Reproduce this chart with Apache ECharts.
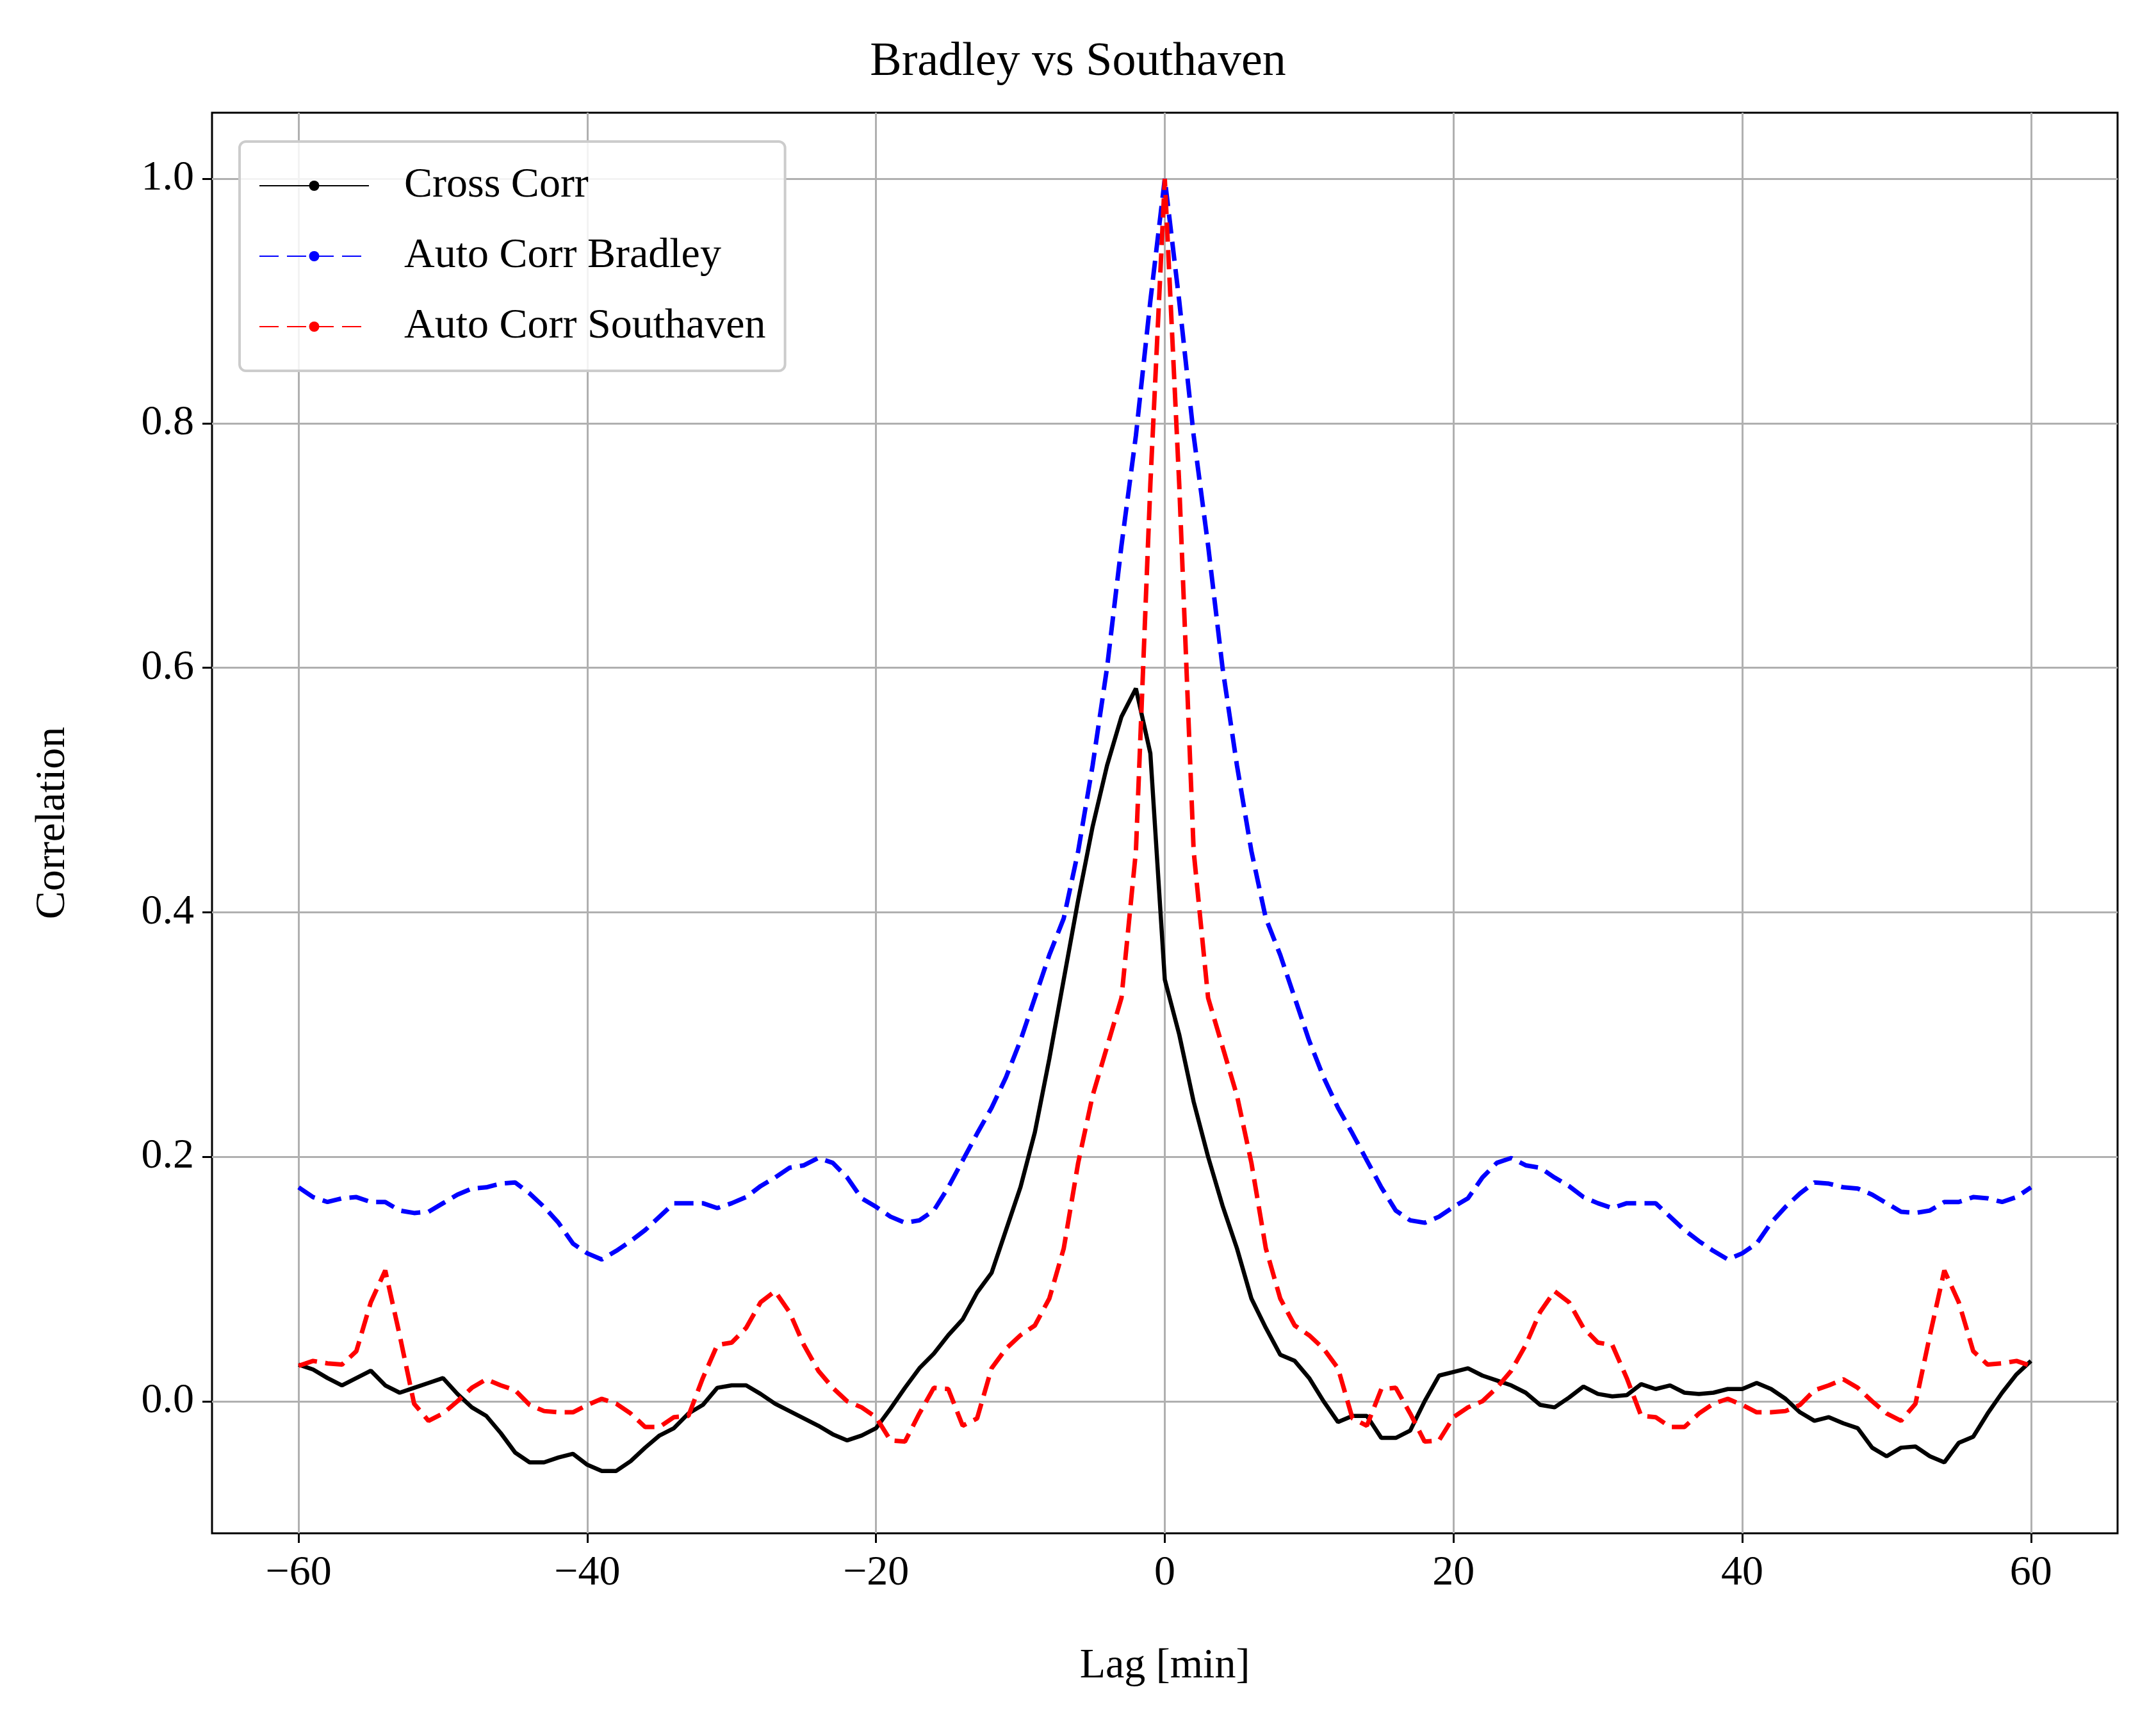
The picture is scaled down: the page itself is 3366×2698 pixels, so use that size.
<!DOCTYPE html>
<html>
<head>
<meta charset="utf-8">
<script src="https://cdn.jsdelivr.net/npm/echarts@6/dist/echarts.min.js"></script>
<style>
  html, body { margin: 0; padding: 0; background: #fff; }
  #chartDiv { width: 3366px; height: 2698px; }
</style>
</head>
<body>
<div id="chartDiv"></div>
<script>
// lags -60..60 (min)
var lags = [];
for (var i = -60; i <= 60; i++) lags.push(i);

// cross correlation, lag -60 .. 60
var crossCorr = [
  0.030, 0.026, 0.019, 0.013, 0.019, 0.025, 0.013, 0.007, 0.011, 0.015,
  0.019, 0.006, -0.005, -0.012, -0.026, -0.042, -0.050, -0.050, -0.046, -0.043,
  -0.052, -0.057, -0.057, -0.049, -0.038, -0.028, -0.022, -0.010, -0.003, 0.011,
  0.013, 0.013, 0.006, -0.002, -0.008, -0.014, -0.020, -0.027, -0.032, -0.028,
  -0.022, -0.006, 0.011, 0.027, 0.039, 0.054, 0.067, 0.089, 0.105, 0.140,
  0.175, 0.220, 0.280, 0.345, 0.410, 0.470, 0.520, 0.560, 0.583, 0.530,
  0.345,
  0.300, 0.245, 0.200, 0.160, 0.125, 0.084, 0.060, 0.038, 0.033, 0.019,
  0.000, -0.017, -0.012, -0.012, -0.030, -0.030, -0.024, 0.000, 0.021, 0.024,
  0.027, 0.021, 0.017, 0.013, 0.007, -0.003, -0.005, 0.003, 0.012, 0.006,
  0.004, 0.005, 0.014, 0.010, 0.013, 0.007, 0.006, 0.007, 0.010, 0.010,
  0.015, 0.010, 0.002, -0.009, -0.016, -0.013, -0.018, -0.022, -0.038, -0.045,
  -0.038, -0.037, -0.045, -0.050, -0.034, -0.029, -0.010, 0.007, 0.022, 0.033
];

// auto correlation Bradley, lag -60 .. -1 (symmetric, 0 = 1.0)
var autoBradleyHalf = [
  0.175, 0.167, 0.163, 0.166, 0.167, 0.163, 0.163, 0.156, 0.154, 0.155,
  0.162, 0.169, 0.174, 0.175, 0.178, 0.179, 0.170, 0.159, 0.146, 0.129,
  0.121, 0.116, 0.123, 0.131, 0.140, 0.151, 0.162, 0.162, 0.162, 0.158,
  0.162, 0.167, 0.176, 0.183, 0.191, 0.193, 0.199, 0.195, 0.183, 0.166,
  0.159, 0.151, 0.146, 0.148, 0.156, 0.175, 0.197, 0.219, 0.240, 0.265,
  0.295, 0.330, 0.365, 0.395, 0.450, 0.520, 0.600, 0.700, 0.790, 0.900
];

// auto correlation Southaven, lag -60 .. -1
var autoSouthHalf = [
  0.029, 0.033, 0.031, 0.030, 0.041, 0.081, 0.107, 0.054, -0.002, -0.016,
  -0.010, 0.000, 0.011, 0.018, 0.013, 0.009, -0.003, -0.008, -0.009, -0.009,
  -0.003, 0.002, -0.002, -0.010, -0.021, -0.021, -0.013, -0.012, 0.019, 0.046,
  0.048, 0.060, 0.081, 0.090, 0.073, 0.046, 0.025, 0.011, 0.000, -0.005,
  -0.013, -0.032, -0.033, -0.010, 0.011, 0.010, -0.020, -0.014, 0.027, 0.043,
  0.054, 0.062, 0.084, 0.125, 0.195, 0.250, 0.290, 0.330, 0.450, 0.750
];

var xTicks = [-60, -40, -20, 0, 20, 40, 60];
var yTicks = [0.0, 0.2, 0.4, 0.6, 0.8, 1.0];

function mirror(half) {
    return half.concat([1.0]).concat(half.slice().reverse());
}
function pairs(vals) {
    var out = [];
    for (var i = 0; i < lags.length; i++) out.push([lags[i], vals[i]]);
    return out;
}

var myChart = echarts.init(document.getElementById('chartDiv'));
var font = 'Liberation Serif';
var gridLine = { show: true, lineStyle: { color: '#b0b0b0', width: 3 } };

var option = {
    backgroundColor: '#fff',
    animation: false,
    textStyle: { fontFamily: font },
    title: {
        text: 'Bradley vs Southaven',
        left: 'center', top: 56,
        textStyle: { fontFamily: font, fontSize: 74, fontWeight: 'normal', color: '#000' }
    },
    grid: {
        left: 331, right: 60, top: 176, bottom: 304,
        show: true, borderColor: '#000', borderWidth: 3
    },
    legend: {
        orient: 'vertical', left: 374, top: 221,
        padding: [36, 30, 36, 30],
        itemWidth: 171, itemHeight: 20, itemGap: 44,
        backgroundColor: 'rgba(255,255,255,0.85)',
        borderColor: '#cccccc', borderWidth: 4, borderRadius: 10,
        textStyle: { fontFamily: font, fontSize: 66, color: '#000', padding: [0, 0, 0, 50] },
        data: ['Cross Corr', 'Auto Corr Bradley', 'Auto Corr Southaven']
    },
    xAxis: {
        type: 'value', min: -66, max: 66,
        name: 'Lag [min]', nameLocation: 'middle', nameGap: 175,
        nameTextStyle: { fontFamily: font, fontSize: 66, color: '#000' },
        axisLine: { show: false, onZero: false },
        axisTick: { show: true, inside: false, length: 15, customValues: xTicks,
                    lineStyle: { color: '#000', width: 3 } },
        axisLabel: { customValues: xTicks, margin: 30, fontFamily: font, fontSize: 66, color: '#000',
                     formatter: function (v) { return String(v).replace('-', '\u2212'); } },
        splitLine: gridLine
    },
    yAxis: {
        type: 'value', min: -0.108, max: 1.054,
        name: 'Correlation', nameLocation: 'middle', nameGap: 215,
        nameTextStyle: { fontFamily: font, fontSize: 66, color: '#000' },
        axisLine: { show: false, onZero: false },
        axisTick: { show: true, inside: false, length: 15, customValues: yTicks,
                    lineStyle: { color: '#000', width: 3 } },
        axisLabel: { customValues: yTicks, margin: 28, fontFamily: font, fontSize: 66, color: '#000',
                     formatter: function (v) { return v.toFixed(1); } },
        splitLine: gridLine
    },
    series: [
        {
            name: 'Cross Corr', type: 'line', data: pairs(crossCorr),
            symbol: 'none', color: '#000',
            lineStyle: { color: '#000', width: 6.5 }
        },
        {
            name: 'Auto Corr Bradley', type: 'line', data: pairs(mirror(autoBradleyHalf)),
            symbol: 'none', color: '#0000ff',
            lineStyle: { color: '#0000ff', width: 7, type: [30, 13] }
        },
        {
            name: 'Auto Corr Southaven', type: 'line', data: pairs(mirror(autoSouthHalf)),
            symbol: 'none', color: '#ff0000',
            lineStyle: { color: '#ff0000', width: 7, type: [30, 13] }
        }
    ]
};

myChart.setOption(option);
</script>
</body>
</html>
